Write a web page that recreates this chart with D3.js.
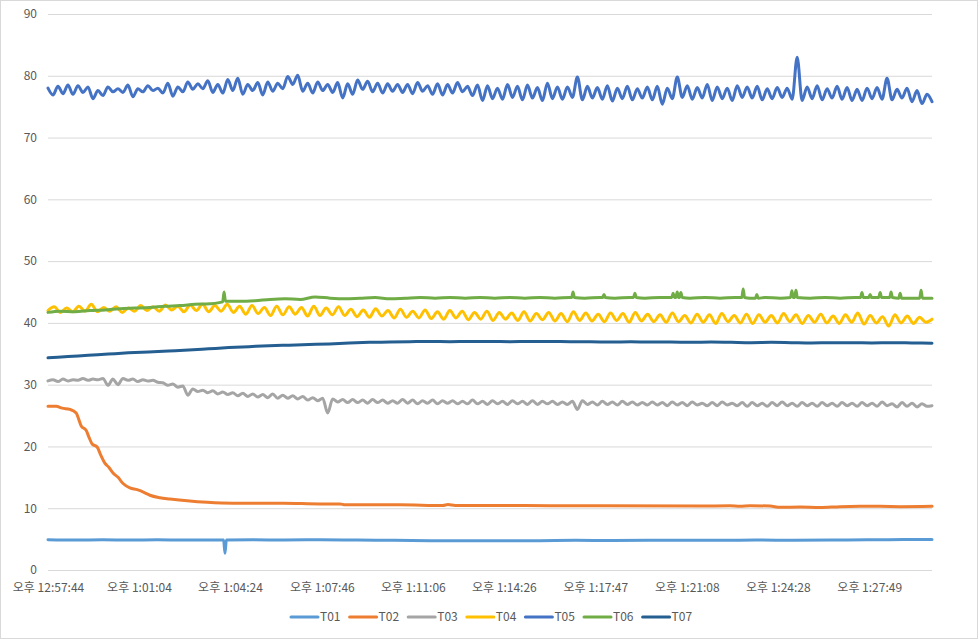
<!DOCTYPE html>
<html>
<head>
<meta charset="utf-8">
<script src="https://cdn.jsdelivr.net/npm/d3@7"></script>
<style>
  html, body { margin: 0; padding: 0; background: #fff; }
  svg { display: block; }
  text { font-family: "Noto Sans CJK KR", "Noto Sans", sans-serif; }
</style>
</head>
<body>
<svg id="chart" width="978" height="639"></svg>
<script>
// ---------------- DATA ----------------
const seriesNames = ["T01", "T02", "T03", "T04", "T05", "T06", "T07"];
const seriesColors = ["#5B9BD5", "#ED7D31", "#A5A5A5", "#FFC000", "#4472C4", "#70AD47", "#255E91"];

// elapsed seconds from 오후 12:57:44
const totalSeconds = 1943;
const tickSeconds = [0, 200, 400, 602, 802, 1002, 1203, 1404, 1604, 1805];
const tickLabels = ["오후 12:57:44", "오후 1:01:04", "오후 1:04:24", "오후 1:07:46", "오후 1:11:06",
                    "오후 1:14:26", "오후 1:17:47", "오후 1:21:08", "오후 1:24:28", "오후 1:27:49"];
const yTicks = [0, 10, 20, 30, 40, 50, 60, 70, 80, 90];

// [seconds, value]
const T01 = [[0,4.9],[60,4.85],[120,4.9],[180,4.85],[240,4.9],[300,4.85],[386,4.85],[389,2.7],[392,4.85],
  [450,4.9],[520,4.85],[600,4.9],[680,4.85],[760,4.8],[840,4.75],[920,4.72],[1000,4.72],[1080,4.75],
  [1160,4.8],[1240,4.78],[1320,4.8],[1400,4.82],[1480,4.8],[1560,4.85],[1640,4.82],[1720,4.85],
  [1800,4.88],[1880,4.95],[1943,4.95]];

const T02 = [[0,26.5],[18,26.5],[31,26.2],[48,26.0],[62,25.4],[68,24.3],[73,23.3],[84,22.6],[90,21.5],
  [97,20.4],[108,19.9],[116,18.6],[125,17.3],[134,16.6],[143,15.7],[154,15.0],[165,14.0],[180,13.3],
  [196,13.0],[213,12.5],[224,12.1],[246,11.7],[268,11.5],[306,11.2],[350,10.95],[407,10.8],[517,10.8],
  [598,10.7],[642,10.7],[653,10.55],[774,10.55],[868,10.45],[879,10.6],[895,10.45],[993,10.45],
  [1103,10.4],[1213,10.4],[1433,10.35],[1499,10.4],[1521,10.3],[1543,10.4],[1587,10.35],[1609,10.15],
  [1653,10.2],[1697,10.1],[1741,10.25],[1785,10.3],[1829,10.3],[1873,10.25],[1943,10.3]];

// evenly spaced over the run
const T03 = [30.6,
  30.8,30.5, 30.9,30.6, 30.8,30.7, 31.0,30.7, 30.9,30.8, 31.0,29.9, 30.9,30.0, 31.0,30.7, 30.9,30.5, 30.8,30.6,
  30.7,30.4, 30.3,29.9, 30.1,29.6, 29.8,28.3, 29.3,28.9,
  29.1,28.7, 29.0,28.5, 28.8,28.4, 28.7,28.2, 28.6,28.1,
  28.5,28.0, 28.4,27.9, 28.5,27.8, 28.3,27.8, 28.2,27.7,
  28.1,27.5, 27.9,27.4, 27.8,25.4, 27.7,27.2, 27.6,27.1,
  27.6,27.1, 27.5,27.0, 27.6,27.1, 27.5,27.0, 27.4,27.0, 27.6,27.0, 27.5,26.9, 27.4,27.0, 27.5,26.9, 27.4,27.0,
  27.4,26.9, 27.3,26.9, 27.5,26.9, 27.3,26.8, 27.4,26.9, 27.3,26.8, 27.4,26.9, 27.3,26.8, 27.4,26.8, 27.3,26.9,
  27.3,26.8, 27.2,26.8, 27.3,26.0, 27.4,26.8, 27.2,26.7, 27.3,26.8, 27.2,26.7, 27.3,26.8, 27.2,26.7, 27.1,26.7,
  27.2,26.7, 27.1,26.6, 27.2,26.7, 27.1,26.6, 27.2,26.7, 27.0,26.6, 27.1,26.6, 27.2,26.7, 27.0,26.6, 27.1,26.5,
  27.1,26.6, 27.0,26.5, 27.1,26.6, 27.2,26.6, 27.0,26.5, 27.1,26.6, 27.0,26.5, 27.1,26.6, 27.0,26.5, 27.1,26.6,
  27.0,26.5, 27.1,26.6, 27.0,26.5, 27.2,26.6, 26.9,26.4, 27.1,26.5, 27.0,26.4, 26.9,26.5,
  26.6];

const T04 = [42.0,
  42.6,41.7, 42.4,41.8, 42.7,41.9, 43.0,41.8, 42.5,41.9, 42.6,41.7, 42.4,41.9,
  42.8,42.0, 42.6,41.9, 42.9,42.1, 42.7,41.8, 42.9,42.0, 43.0,41.8, 42.8,41.9, 43.0,41.7,
  42.7,41.4, 42.8,41.5, 42.5,41.2, 42.7,41.3, 42.6,41.4, 42.5,41.1, 42.7,41.2, 42.4,41.3, 42.6,41.2,
  42.2,41.0, 42.1,40.9, 42.3,41.1, 42.0,40.8, 42.2,40.9, 41.9,40.8, 42.1,40.7, 41.8,40.6, 42.0,40.8,
  41.9,40.5, 41.7,40.6, 41.9,40.4, 41.7,40.6,
  41.6,40.4, 41.8,40.3, 41.5,40.5, 41.7,40.3, 41.5,40.2, 41.8,40.4, 41.6,40.3, 41.4,40.2, 41.6,40.4,
  41.5,40.1, 41.7,40.3, 41.4,40.2,
  41.3,40.1, 41.6,40.2, 41.2,40.0, 41.4,40.1, 41.3,39.9, 41.5,40.2, 41.2,40.0, 41.4,39.9, 41.3,40.1,
  41.2,40.0, 41.5,40.2, 41.3,39.9, 41.2,40.1, 41.4,40.0, 41.1,39.9, 41.3,40.1, 41.6,39.8, 41.2,40.0,
  41.0,39.5, 41.3,40.0, 41.1,39.9, 40.9,40.1,
  40.6];

const T05 = [78.0,
  76.9,78.3, 77.1,78.5, 77.0,78.4, 77.3,78.2, 76.3,77.6, 76.8,78.2, 77.4,77.9, 77.3,78.5, 76.6,77.9, 77.4,78.4,
  77.6,78.0, 77.2,78.8, 76.7,78.2, 77.4,79.0, 77.8,78.7, 77.9,79.2, 77.3,78.6, 77.2,79.4, 77.6,79.6, 77.0,78.6,
  77.6,78.9, 76.9,79.0, 77.5,78.8, 77.9,79.9, 78.6,80.1,
  77.5,78.8, 77.2,79.0, 77.6,78.6, 77.3,78.9, 76.4,78.7,
  77.0,79.3, 77.8,79.1, 77.4,78.8, 77.2,78.7, 77.5,78.6,
  77.3,78.6, 77.1,78.9, 77.5,78.4, 77.0,78.7, 76.9,78.6, 77.2,78.9, 77.4,78.3, 76.8,78.5,
  76.0,78.4, 76.3,78.0, 76.2,78.6, 76.5,78.3, 76.1,78.5, 76.4,78.1, 76.0,78.8, 76.3,78.2,
  76.2,78.2, 76.5,79.8, 76.1,78.3, 76.4,78.1, 76.2,78.4, 75.9,78.0, 76.3,78.3, 76.1,77.9, 76.4,78.2,
  76.1,78.3, 75.4,78.0, 76.3,79.8, 76.5,78.4, 76.2,78.1, 76.4,78.6, 76.0,78.2,
  76.3,78.0, 76.0,78.4, 76.5,78.2, 76.4,78.3, 76.1,77.9, 76.3,78.1, 76.5,78.0, 76.2,83.0,
  76.0,78.2, 76.3,78.4, 76.1,77.9, 76.4,78.3, 76.2,78.1, 76.0,77.8,
  76.0,78.0, 76.3,78.1, 76.2,79.6, 76.1,77.8, 76.4,78.0, 75.8,77.6, 75.5,77.0,
  75.8];

// [seconds, value]
const T06 = [[0,41.7],[26,41.9],[59,41.8],[92,42.0],[125,42.1],[158,42.3],[191,42.4],[224,42.5],[257,42.7],
  [290,42.8],[323,43.0],[356,43.1],[384,43.4],[387,45.0],[390,43.5],[422,43.5],[455,43.6],[488,43.8],
  [521,43.9],[554,43.8],[587,44.2],[620,44.0],[653,43.9],[686,44.0],[719,44.1],[752,43.9],[785,44.0],
  [818,44.1],[851,44.0],[884,44.1],[917,44.0],[950,44.1],[982,44.0],[1015,44.1],[1048,44.0],[1081,44.1],
  [1114,44.0],[1147,44.1],[1151,44.1],[1154,45.0],[1157,44.1],[1180,44.0],[1213,44.1],[1219,44.1],
  [1222,44.6],[1225,44.1],[1246,44.0],[1279,44.1],[1287,44.1],[1290,44.8],[1293,44.1],[1312,44.0],
  [1345,44.1],[1371,44.1],[1374,44.8],[1377,44.1],[1380,44.1],[1383,45.0],[1386,44.1],[1388,44.1],
  [1391,44.9],[1394,44.1],[1411,44.0],[1444,44.1],[1477,44.0],[1510,44.1],[1525,44.1],[1528,45.5],
  [1531,44.1],[1543,44.0],[1555,44.0],[1558,44.6],[1561,44.0],[1576,44.1],[1609,44.0],[1632,44.1],
  [1635,45.2],[1638,44.1],[1641,44.1],[1644,45.3],[1647,44.1],[1675,44.0],[1708,44.1],[1741,44.0],
  [1774,44.1],[1786,44.1],[1789,44.9],[1792,44.1],[1804,44.1],[1807,44.6],[1810,44.1],[1826,44.1],
  [1829,44.9],[1832,44.1],[1850,44.1],[1853,45.0],[1856,44.1],[1870,44.0],[1873,44.8],[1876,44.0],
  [1906,44.0],[1916,44.0],[1919,45.3],[1922,44.0],[1943,44.0]];

const T07 = [34.35,34.55,34.75,34.95,35.15,35.3,35.45,35.6,35.8,36.0,36.15,36.3,36.4,36.5,36.6,36.75,
  36.85,36.9,36.95,37.0,36.95,37.0,37.0,36.95,37.0,37.0,36.95,36.95,36.9,36.95,36.9,36.9,36.85,36.9,
  36.85,36.8,36.85,36.8,36.75,36.8,36.8,36.75,36.8,36.75,36.7];

// ---------------- CHART ----------------
const svg = d3.select("#chart");
const W = 978, H = 639;
const plot = { left: 48, right: 932, top: 14, bottom: 570 };

svg.append("rect").attr("x", 0.5).attr("y", 0.5).attr("width", W - 1).attr("height", H - 1)
  .attr("fill", "#fff").attr("stroke", "#D9D9D9").attr("stroke-width", 1);

const x = d3.scaleLinear().domain([0, totalSeconds]).range([plot.left, plot.right]);
const y = d3.scaleLinear().domain([0, 90]).range([plot.bottom, plot.top]);

// gridlines + y labels
const yAxis = d3.axisLeft(y).tickValues(yTicks).tickSize(-(plot.right - plot.left)).tickPadding(11)
  .tickFormat(d3.format("d"));
const gy = svg.append("g").attr("transform", `translate(${plot.left},0)`).call(yAxis);
gy.select(".domain").remove();
gy.selectAll(".tick line").attr("stroke", "#D9D9D9").attr("stroke-width", 1);
gy.selectAll(".tick text").attr("fill", "#595959").style("font-size", "12px");

// x labels
const xAxis = d3.axisBottom(x).tickValues(tickSeconds).tickSize(0).tickPadding(13)
  .tickFormat((d, i) => tickLabels[i]);
const gx = svg.append("g").attr("transform", `translate(0,${plot.bottom})`).call(xAxis);
gx.select(".domain").remove();
gx.selectAll(".tick text").attr("fill", "#595959").style("font-size", "12px");

// series
function toPoints(arr) {
  if (Array.isArray(arr[0])) return arr;
  const n = arr.length;
  return arr.map((v, i) => [i * totalSeconds / (n - 1), v]);
}
const allSeries = [T01, T02, T03, T04, T05, T06, T07];
const line = d3.line().x(d => x(d[0])).y(d => y(d[1])).curve(d3.curveMonotoneX);

svg.append("g").selectAll("path").data(allSeries).join("path")
  .attr("d", d => line(toPoints(d)))
  .attr("fill", "none")
  .attr("stroke", (d, i) => seriesColors[i])
  .attr("stroke-width", 3)
  .attr("stroke-linejoin", "round")
  .attr("stroke-linecap", "round");

// legend
const legendStart = 291, legendStep = 58.6, legendY = 617;
const lg = svg.append("g").selectAll("g").data(seriesNames).join("g")
  .attr("transform", (d, i) => `translate(${legendStart + i * legendStep},${legendY})`);
lg.append("line").attr("x1", 0).attr("x2", 27).attr("y1", 0).attr("y2", 0)
  .attr("stroke", (d, i) => seriesColors[i]).attr("stroke-width", 3).attr("stroke-linecap", "round");
lg.append("text").attr("x", 29).attr("y", 0).attr("dy", "0.35em")
  .attr("fill", "#595959").style("font-size", "12px").text(d => d);
</script>
</body>
</html>
